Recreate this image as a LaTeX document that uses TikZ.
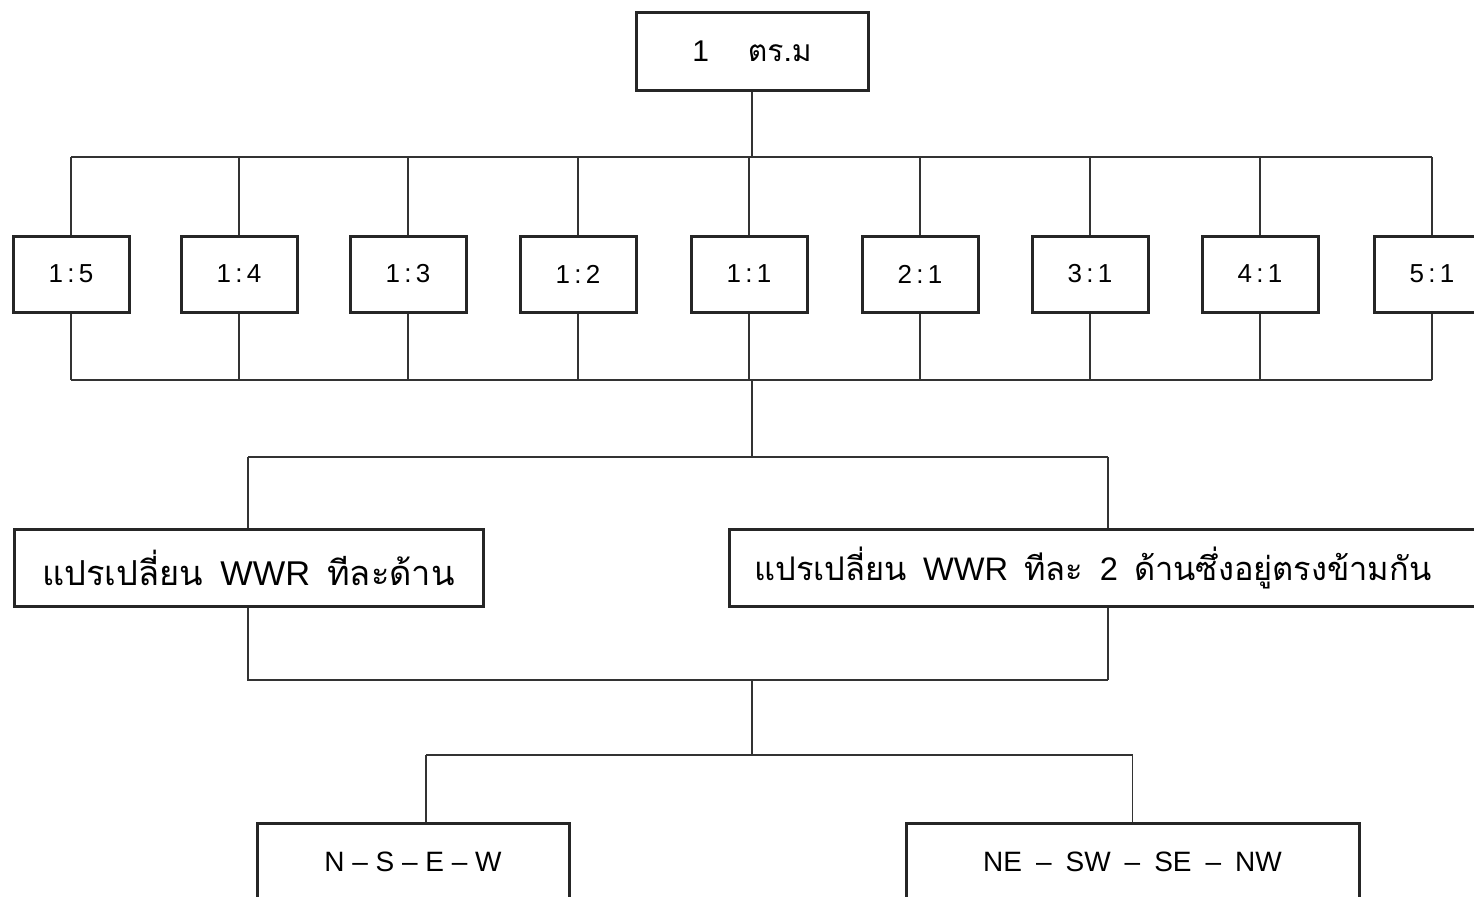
\documentclass[tikz,border=0pt]{standalone}
\usepackage{fontspec}
\setmainfont{Liberation Sans}
\newfontfamily\thaifont[Script=Thai]{Loma}
\begin{document}
\begin{tikzpicture}[x=0.5pt,y=-0.5pt,
  box/.style={draw=black!85, line width=1.5pt, rectangle, inner sep=0pt, fill=white},
  rbox/.style={box, minimum width=58pt, minimum height=38pt, font=\fontsize{13}{15}\selectfont},
  conn/.style={draw=black!80, line width=0.9pt}]
\useasboundingbox (0,0) rectangle (1474,896);
\clip (0,0) rectangle (1474,896);
\fill[white] (0,0) rectangle (1474,896);
% top box
\node[box, minimum width=116pt, minimum height=39pt, font=\fontsize{15}{17}\selectfont] (top) at (752,51) {1\hspace{1.3em}{\thaifont ตร.ม}};
% ratio boxes
\foreach \n/\x/\t in {r1/71/1\,:\,5, r2/239/1\,:\,4, r3/408/1\,:\,3, r4/578/1\,:\,2, r5/749/1\,:\,1, r6/920/2\,:\,1, r7/1090/3\,:\,1, r8/1260/4\,:\,1, r9/1432/5\,:\,1}
  \node[rbox] (\n) at (\x,274) {\t};
% buses
\coordinate (busA) at (752,157);
\coordinate (busB) at (752,380);
\coordinate (busC) at (752,457);
\coordinate (busD) at (752,680);
\coordinate (busE) at (752,755);
\draw[conn] (top.south) -- (busA);
\draw[conn] (r1.north |- busA) -- (r9.north |- busA);
\draw[conn] (r1.south |- busB) -- (r9.south |- busB);
\foreach \n in {r1,r2,r3,r4,r5,r6,r7,r8,r9}{
  \draw[conn] (\n.north) -- (\n.north |- busA);
  \draw[conn] (\n.south) -- (\n.south |- busB);
}
\draw[conn] (busB) -- (busC);
% thai boxes
\node[box, minimum width=234.5pt, minimum height=38.5pt, font=\fontsize{17.2}{19}\selectfont] (tL) at (248.5,567.5)
  {{\thaifont แปรเปลี่ยน}\enspace WWR\enspace {\thaifont ทีละด้าน}};
\node[box, minimum width=376pt, minimum height=38.5pt] (tR) at (1105,567.5) {};
\node[font=\fontsize{16.3}{18}\selectfont, anchor=west, inner sep=0pt] (tRt) at (754,567.5)
  {{\thaifont แปรเปลี่ยน}\enspace WWR\enspace {\thaifont ทีละ}\enspace 2\enspace {\thaifont ด้านซึ่งอยู่ตรงข้ามกัน}};
\coordinate (cL) at (248,457);
\coordinate (cR) at (1108,457);
\draw[conn] (cL) -- (cR);
\draw[conn] (cL) -- (cL |- tL.north);
\draw[conn] (cR) -- (cR |- tR.north);
\coordinate (dL) at (248,680);
\coordinate (dR) at (1108,680);
\draw[conn] (dL |- tL.south) -- (dL) -- (dR);
\draw[conn] (cR |- tR.south) -- (dR);
\draw[conn] (busD) -- (busE);
% bottom boxes
\node[box, minimum width=156pt, minimum height=39pt, font=\fontsize{14}{16}\selectfont] (bL) at (413,862)
  {N \textendash{} S \textendash{} E \textendash{} W};
\node[box, minimum width=226.5pt, minimum height=39pt, font=\fontsize{14}{16}\selectfont] (bR) at (1132.5,862)
  {NE\enspace\textendash\enspace SW\enspace\textendash\enspace SE\enspace\textendash\enspace NW};
\coordinate (eL) at (426,755);
\coordinate (eR) at (bR.north |- busE);
\draw[conn] (eL) -- (eR);
\draw[conn] (eL) -- (eL |- bL.north);
\draw[conn] (eR) -- (bR.north);
\end{tikzpicture}
\end{document}
